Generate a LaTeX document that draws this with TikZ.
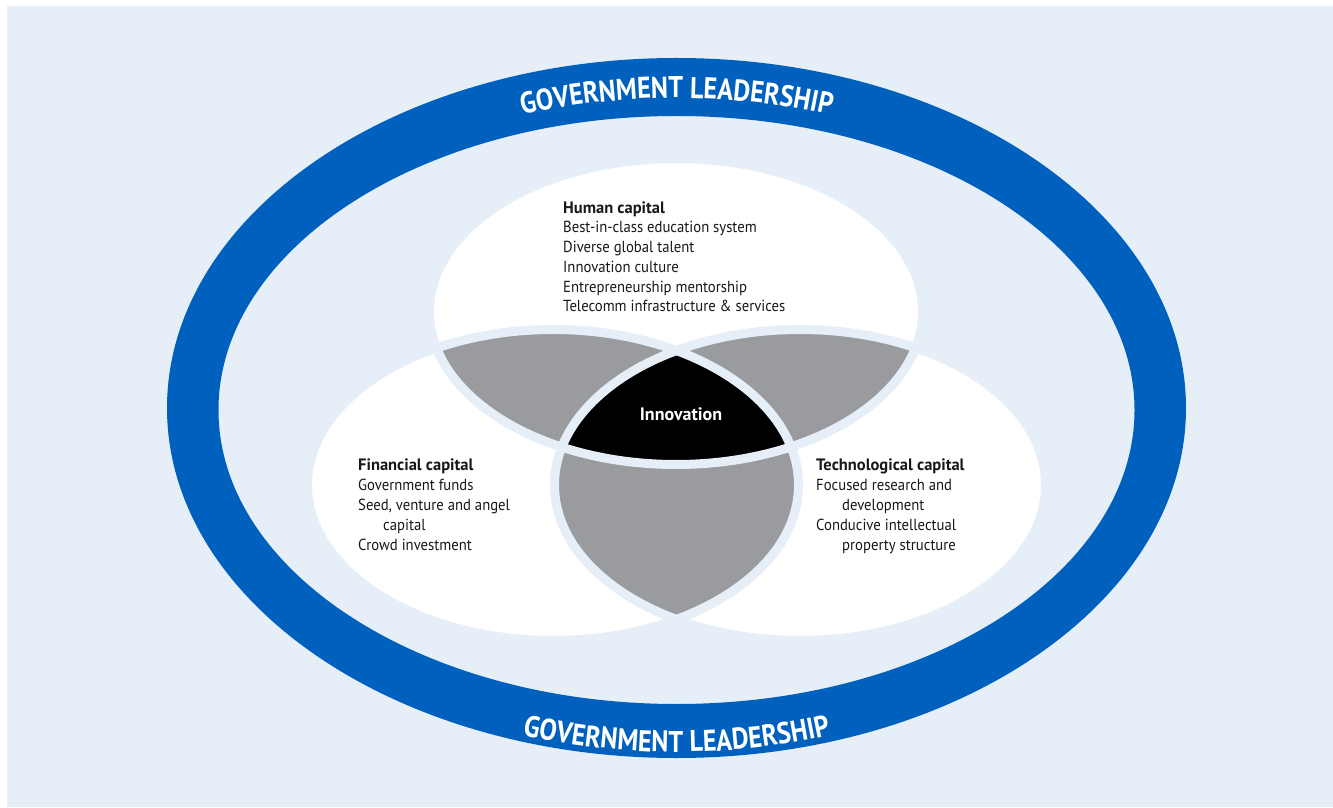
\documentclass[tikz,border=0pt]{standalone}
\usepackage{fontspec}
\usetikzlibrary{decorations.text}
\newfontfamily\bodyfont[FakeStretch=0.92]{PT Sans}
\newfontfamily\headfont{PT Sans}
\newfontfamily\govfont[FakeStretch=0.87]{PT Sans}
\definecolor{bgblue}{HTML}{E6EEF8}
\definecolor{ringblue}{HTML}{0060BE}
\definecolor{lapgrey}{HTML}{9A9B9F}
\definecolor{ink}{HTML}{1A1718}
\begin{document}
\begin{tikzpicture}[x=1pt,y=1pt,
  body/.style={font=\bodyfont\fontsize{16}{19}\selectfont, text=ink, inner sep=0pt, anchor=base west},
  head/.style={body, font=\headfont\bfseries\fontsize{16.5}{19}\selectfont},
  gap/.style={draw=bgblue, line width=9pt},
  govtext/.style={decorate, decoration={text along path, text align=center,
     text={|\govfont\bfseries\fontsize{30}{30}\selectfont\color{white}|GOVERNMENT LEADERSHIP}}}]
\useasboundingbox (0,0) rectangle (1333,807);
\fill[white] (0,0) rectangle (1333,807);
\fill[bgblue] (7,0) rectangle (1333,801);
% ring
\coordinate (ro) at (676.5,399);
\coordinate (ri) at (676.5,397);
\fill[ringblue, even odd rule] (ro) ellipse [x radius=509.5pt, y radius=350pt]
   (ri) ellipse [x radius=458pt, y radius=294pt];
\coordinate (rm) at (676.5,398);
\path[white, govtext] (rm) ++(150:473pt and 311pt) arc[start angle=150, end angle=30, x radius=473pt, y radius=311pt];
\path[white, govtext] (rm) ++(212:500pt and 343pt) arc[start angle=212, end angle=328, x radius=500pt, y radius=343pt];
% three ellipses
\coordinate (hc) at (676,495.5);
\coordinate (fc) at (553,322);
\coordinate (tc) at (800,322);
\def\hshape{(hc) ellipse [x radius=246.5pt, y radius=153pt]}
\def\fshape{(fc) ellipse [x radius=245.5pt, y radius=155.5pt]}
\def\tshape{(tc) ellipse [x radius=245.5pt, y radius=155.5pt]}
\fill[white] \hshape;
\fill[white] \fshape;
\fill[white] \tshape;
\begin{scope}
  \clip \hshape;
  \fill[lapgrey] \fshape;
  \fill[lapgrey] \tshape;
\end{scope}
\begin{scope}
  \clip \fshape;
  \fill[lapgrey] \tshape;
\end{scope}
\begin{scope}
  \clip \hshape;
  \clip \fshape;
  \fill[black] \tshape;
\end{scope}
\path[gap] \hshape;
\path[gap] \fshape;
\path[gap] \tshape;
% innovation
\node[font=\headfont\bfseries\fontsize{18}{18}\selectfont, text=white, inner sep=0pt] (inno) at (681,392.5) {Innovation};
% human capital
\node[head] (h0) at (563,593.7) {Human capital};
\node[body] (h1) at (563,574.0) {Best-in-class education system};
\node[body] (h2) at (563,554.3) {Diverse global talent};
\node[body] (h3) at (563,534.6) {Innovation culture};
\node[body] (h4) at (563,514.9) {Entrepreneurship mentorship};
\node[body] (h5) at (563,495.2) {Telecomm infrastructure \& services};
% financial capital
\node[head] (f0) at (358,336.3) {Financial capital};
\node[body] (f1) at (358,316.3) {Government funds};
\node[body] (f2) at (358,296.3) {Seed, venture and angel};
\node[body] (f3) at (383,276.3) {capital};
\node[body] (f4) at (358,256.3) {Crowd investment};
% technological capital
\node[head] (t0) at (816,336.3) {Technological capital};
\node[body] (t1) at (816,316.3) {Focused research and};
\node[body] (t2) at (842,296.3) {development};
\node[body] (t3) at (816,276.3) {Conducive intellectual};
\node[body] (t4) at (842,256.3) {property structure};
\end{tikzpicture}
\end{document}
